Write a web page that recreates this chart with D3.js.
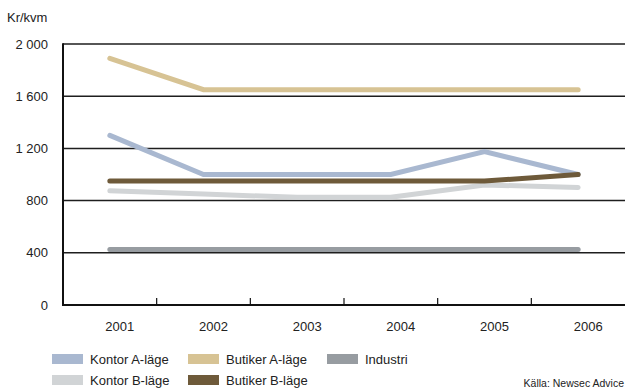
<!DOCTYPE html>
<html>
<head>
<meta charset="utf-8">
<script src="https://cdn.jsdelivr.net/npm/d3@7"></script>
<style>
  html, body { margin: 0; padding: 0; background: #fff; }
  svg { display: block; font-family: "Liberation Sans", Arial, Helvetica, sans-serif; }
</style>
</head>
<body>
<svg id="chart" width="625" height="390"></svg>
<script>
// Hyresnivåer, kr/kvm, 2001–2006
const years = ["2001", "2002", "2003", "2004", "2005", "2006"];
const yTicks = [0, 400, 800, 1200, 1600, 2000];

const kontorA  = [1300, 1000, 1000, 1000, 1175, 1000];
const kontorB  = [875, 850, 825, 825, 920, 900];
const butikerA = [1890, 1650, 1650, 1650, 1650, 1650];
const butikerB = [950, 950, 950, 950, 950, 1000];
const industri = [425, 425, 425, 425, 425, 425];

const seriesNames  = ["Kontor A-läge", "Kontor B-läge", "Butiker A-läge", "Butiker B-läge", "Industri"];
const seriesColors = ["#a9b8d0", "#d1d4d6", "#d7c394", "#6e5a3a", "#979ca1"];
const seriesValues = [kontorA, kontorB, butikerA, butikerB, industri];

const series = seriesNames.map((name, i) => ({ name, color: seriesColors[i], values: seriesValues[i] }));

const svg = d3.select("#chart");
const plotLeft = 63, plotRight = 625, plotTop = 44, plotBottom = 305;

const x = d3.scaleBand().domain(years).range([plotLeft, plotRight]).padding(0);
const y = d3.scaleLinear().domain([0, 2000]).range([plotBottom, plotTop]);

const fmt = v => d3.format(",")(v).replace(/,/g, " ");

// horizontal gridlines
svg.append("g")
  .selectAll("line")
  .data(yTicks.filter(d => d > 0))
  .join("line")
  .attr("x1", plotLeft).attr("x2", plotRight)
  .attr("y1", d => y(d)).attr("y2", d => y(d))
  .attr("stroke", "#1e1e1e").attr("stroke-width", 1.5);

// y tick labels
svg.append("g")
  .selectAll("text")
  .data(yTicks)
  .join("text")
  .attr("x", 48).attr("y", d => y(d))
  .attr("dy", "0.35em")
  .attr("text-anchor", "end")
  .attr("font-size", 13)
  .attr("fill", "#222")
  .text(fmt);

svg.append("text")
  .attr("x", 7).attr("y", 22)
  .attr("font-size", 13)
  .attr("fill", "#222")
  .text("Kr/kvm");

// series lines (lighter ones drawn first)
const line = d3.line()
  .x((d, i) => x(years[i]) + x.bandwidth() / 2)
  .y(d => y(d));

const drawOrder = ["Kontor B-läge", "Industri", "Kontor A-läge", "Butiker A-läge", "Butiker B-läge"];
svg.append("g")
  .selectAll("path")
  .data(drawOrder.map(n => series.find(s => s.name === n)))
  .join("path")
  .attr("d", d => line(d.values))
  .attr("fill", "none")
  .attr("stroke", d => d.color)
  .attr("stroke-width", 5)
  .attr("stroke-linecap", "round")
  .attr("stroke-linejoin", "miter");

// axes
svg.append("line")
  .attr("x1", plotLeft).attr("x2", plotLeft)
  .attr("y1", plotTop - 0.75).attr("y2", plotBottom + 1)
  .attr("stroke", "#111").attr("stroke-width", 2);
svg.append("line")
  .attr("x1", plotLeft - 1).attr("x2", plotRight)
  .attr("y1", plotBottom).attr("y2", plotBottom)
  .attr("stroke", "#111").attr("stroke-width", 2);

// ticks between the years
svg.append("g")
  .selectAll("line")
  .data(years.slice(1))
  .join("line")
  .attr("x1", d => x(d)).attr("x2", d => x(d))
  .attr("y1", plotBottom - 7).attr("y2", plotBottom)
  .attr("stroke", "#111").attr("stroke-width", 1.2);

// year labels
svg.append("g")
  .selectAll("text")
  .data(years)
  .join("text")
  .attr("x", d => x(d) + x.bandwidth() / 2 + 10)
  .attr("y", 331)
  .attr("text-anchor", "middle")
  .attr("font-size", 13)
  .attr("fill", "#222")
  .text(d => d);

// legend
const legendPos = {
  "Kontor A-läge":  [52, 354],
  "Kontor B-läge":  [52, 375],
  "Butiker A-läge": [188, 354],
  "Butiker B-läge": [188, 375],
  "Industri":       [327, 354]
};
const lg = svg.append("g")
  .selectAll("g")
  .data(series)
  .join("g")
  .attr("transform", d => `translate(${legendPos[d.name][0]},${legendPos[d.name][1]})`);
lg.append("rect")
  .attr("width", 31).attr("height", 10)
  .attr("fill", d => d.color);
lg.append("text")
  .attr("x", 38).attr("y", 5)
  .attr("dy", "0.35em")
  .attr("font-size", 13)
  .attr("fill", "#222")
  .text(d => d.name);

svg.append("text")
  .attr("x", 624).attr("y", 383)
  .attr("dy", "0.35em")
  .attr("text-anchor", "end")
  .attr("font-size", 10.5)
  .attr("fill", "#222")
  .text("Källa: Newsec Advice");
</script>
</body>
</html>
